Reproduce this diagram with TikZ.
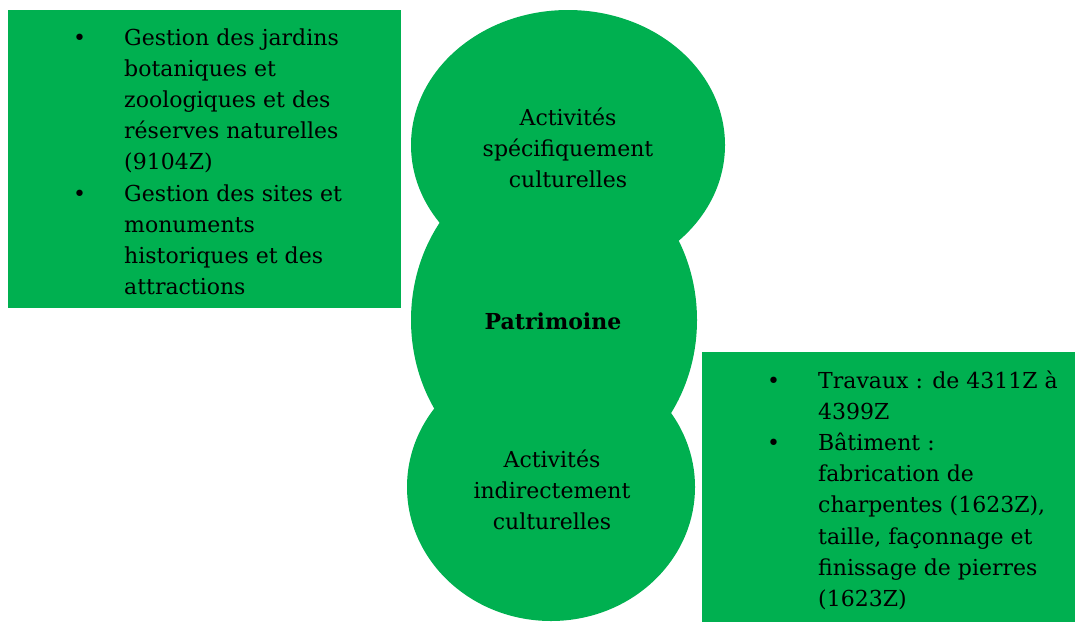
\documentclass[tikz,border=0pt]{standalone}
\usepackage{fontspec}
\setmainfont{DejaVu Serif}
\usetikzlibrary{shapes.geometric}
\definecolor{pgreen}{HTML}{00B050}
\newcommand{\blt}{\leavevmode\llap{•\hspace{38pt}}}
\begin{document}
\begin{tikzpicture}[x=1pt,y=-1pt,
  ell/.style={ellipse,fill=pgreen,draw=none,inner sep=0pt},
  gbox/.style={rectangle,fill=pgreen,draw=none,inner sep=0pt,anchor=north west},
  txt/.style={inner sep=0pt,anchor=base,font=\fontsize{22}{31.2}\selectfont},
  ltxt/.style={inner sep=0pt,anchor=base west,font=\fontsize{22}{31.2}\selectfont}]
\useasboundingbox (0,0) rectangle (1075,621);
\node[gbox,minimum width=393pt,minimum height=298pt] (lbox) at (8,10) {};
\node[gbox,minimum width=373pt,minimum height=270pt] (rbox) at (702,352) {};
\node[ell,minimum width=286pt,minimum height=324pt] (mid) at (554,320) {};
\node[ell,minimum width=314pt,minimum height=270pt] (top) at (568,145) {};
\node[ell,minimum width=288pt,minimum height=268pt] (bot) at (551,487) {};
\node[txt] (ttop) at (568,125) {\vtop{\hsize=300pt\parindent=0pt\centering Activités\\spécifiquement\\culturelles\par}};
\node[txt] (tmid) at (553,329) {\bfseries Patrimoine};
\node[txt] (tbot) at (552,467) {\vtop{\hsize=300pt\parindent=0pt\centering Activités\\indirectement\\culturelles\par}};
\node[ltxt] (tl) at (124,45) {\vtop{\hsize=270pt\parindent=0pt\raggedright
\blt Gestion des jardins\\botaniques et\\zoologiques et des\\réserves naturelles\\(9104Z)\par
\blt Gestion des sites et\\monuments\\historiques et des\\attractions\par}};
\node[ltxt] (tr) at (818,388) {\vtop{\hsize=250pt\parindent=0pt\raggedright
\blt Travaux : de 4311Z à\\4399Z\par
\blt Bâtiment :\\fabrication de\\charpentes (1623Z),\\taille, façonnage et\\finissage de pierres\\(1623Z)\par}};
\end{tikzpicture}
\end{document}
